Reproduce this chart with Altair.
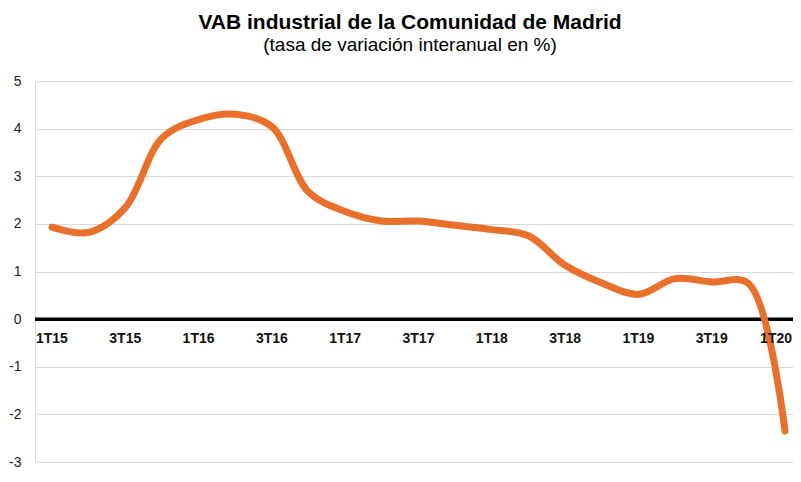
import altair as alt
import pandas as pd

quarters = ["1T15","2T15","3T15","4T15","1T16","2T16","3T16","4T16","1T17","2T17",
            "3T17","4T17","1T18","2T18","3T18","4T18","1T19","2T19","3T19","4T19","1T20"]
values = [1.93, 1.82, 2.34, 3.80, 4.19, 4.30, 4.04, 2.67, 2.26, 2.06,
          2.06, 1.97, 1.88, 1.75, 1.13, 0.76, 0.52, 0.85, 0.78, 0.75, -2.35]
shown_labels = quarters[::2]
y_ticks = [-3, -2, -1, 0, 1, 2, 3, 4, 5]

title_text = "VAB industrial de la Comunidad de Madrid"
subtitle_text = "(tasa de variación interanual en %)"

df = pd.DataFrame({"q": quarters, "v": values})
lab = pd.DataFrame({"q": shown_labels[:-1], "z": [0] * (len(shown_labels) - 1)})
lab_last = pd.DataFrame({"q": shown_labels[-1:], "z": [0]})
one = pd.DataFrame({"k": [0]})

FONT = "Liberation Sans"
W = 758

xs = alt.X("q:N", sort=quarters,
           scale=alt.Scale(type="point", padding=0.34, align=0.68),
           axis=None)
ys = alt.Scale(domain=[-3, 5], nice=False, zero=False)

base_axis = alt.Axis(values=y_ticks, grid=True, gridColor="#d9d9d9", gridWidth=1,
                     domain=False, ticks=False, labelFontSize=14, labelFont=FONT,
                     labelColor="#222222", labelPadding=14, title=None,
                     labelExpr="'' + datum.value")

line = alt.Chart(df).mark_line(
    color="#E8702A", strokeWidth=7, interpolate="catmull-rom",
    strokeCap="round", strokeJoin="round"
).encode(x=xs, y=alt.Y("v:Q", scale=ys, axis=base_axis))

zero = alt.Chart(one).mark_rule(color="black", strokeWidth=3.5).encode(
    y=alt.datum(0), x=alt.value(0), x2=alt.value(W)
)

xlabels = alt.Chart(lab).mark_text(
    font=FONT, fontSize=14, fontWeight="bold", color="#111111", dy=24, baseline="alphabetic"
).encode(x=xs, y=alt.Y("z:Q", scale=ys), text="q:N")

xlabel_last = alt.Chart(lab_last).mark_text(
    font=FONT, fontSize=14, fontWeight="bold", color="#111111", dy=24, dx=7,
    baseline="alphabetic", align="right"
).encode(x=xs, y=alt.Y("z:Q", scale=ys), text="q:N")

title = alt.Chart(one).mark_text(
    font=FONT, fontSize=21, fontWeight="bold", color="#000000", baseline="alphabetic"
).encode(x=alt.value(375), y=alt.value(-52), text=alt.datum(title_text))

subtitle = alt.Chart(one).mark_text(
    font=FONT, fontSize=19, color="#000000", baseline="alphabetic"
).encode(x=alt.value(375), y=alt.value(-30), text=alt.datum(subtitle_text))

chart = alt.layer(zero, line, xlabels, xlabel_last, title, subtitle).properties(
    width=W, height=381,
    autosize=alt.AutoSizeParams(type="none"),
    padding={"left": 27, "top": 73, "right": 0, "bottom": 7},
).configure_view(stroke=None).configure(background="white")

chart.save("out.html", embed_options={"renderer": "svg", "actions": False})
